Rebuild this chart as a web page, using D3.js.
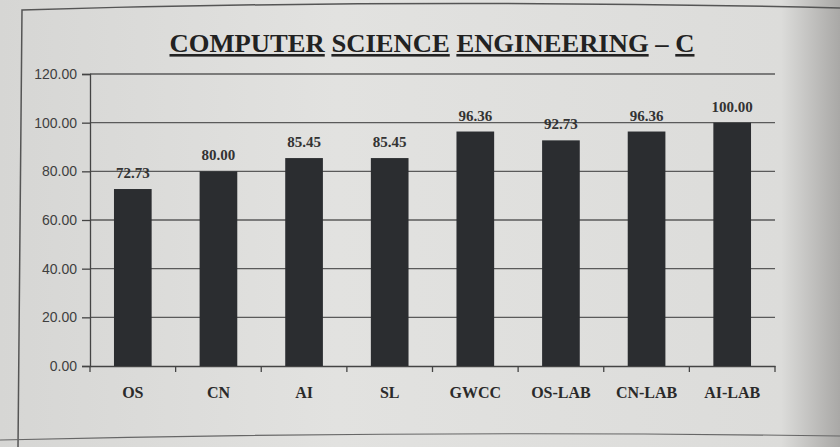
<!DOCTYPE html>
<html><head><meta charset="utf-8">
<script src="https://cdn.jsdelivr.net/npm/d3@7/dist/d3.min.js"></script>
<style>html,body{margin:0;padding:0;background:#d9d9d7;}svg{display:block;}</style>
</head><body>
<svg id="c" width="840" height="447"></svg>
<script>
const categories = ["OS","CN","AI","SL","GWCC","OS-LAB","CN-LAB","AI-LAB"];
const values = [72.73, 80.00, 85.45, 85.45, 96.36, 92.73, 96.36, 100.00];
const yTicks = [0,20,40,60,80,100,120];
const titleParts = [["COMPUTER",true],[" ",false],["SCIENCE",true],[" ",false],["ENGINEERING",true],[" – ",false],["C",true]];

const svg = d3.select("#c");
const W = 840, H = 447;
const defs = svg.append("defs");
const g1 = defs.append("linearGradient").attr("id","bg").attr("x1","0").attr("x2","1");
g1.append("stop").attr("offset","0").attr("stop-color","#d6d6d4");
g1.append("stop").attr("offset","0.4").attr("stop-color","#e2e2e0");
g1.append("stop").attr("offset","0.93").attr("stop-color","#dcdcda");
g1.append("stop").attr("offset","1").attr("stop-color","#a9a8a6");
svg.append("rect").attr("width",W).attr("height",H).attr("fill","url(#bg)");
// frame
svg.append("path").attr("d","M18,447 L22,10 Q420,-2 840,8").attr("fill","none").attr("stroke","#555").attr("stroke-width",1.5);
svg.append("path").attr("d","M0,440 Q420,430 840,436").attr("fill","none").attr("stroke","#666").attr("stroke-width",1.2);

const m = {l:90, r:775, t:74, b:366};
const x = d3.scaleBand().domain(categories).range([m.l,m.r]).paddingInner(0.56).paddingOuter(0.28);
const y = d3.scaleLinear().domain([0,120]).range([m.b,m.t]);

// gridlines
svg.append("g").selectAll("line").data(yTicks.filter(d=>d>0)).join("line")
  .attr("x1",m.l).attr("x2",m.r).attr("y1",d=>y(d)).attr("y2",d=>y(d))
  .attr("stroke","#5a5a5a").attr("stroke-width",1.3);

// y axis
const ya = svg.append("g").attr("transform",`translate(${m.l},0)`)
  .call(d3.axisLeft(y).tickValues(yTicks).tickFormat(d3.format(".2f")).tickSize(8));
ya.select(".domain").attr("stroke","#444").attr("stroke-width",1.3);
ya.selectAll(".tick line").attr("stroke","#444").attr("stroke-width",1.3);
ya.selectAll("text").attr("font-family","'Liberation Sans Narrow','Liberation Sans',sans-serif")
  .attr("font-size",14).attr("fill","#3f3f3f").attr("dx",-2);

// x axis
const xa = svg.append("g").attr("transform",`translate(0,${m.b})`)
  .call(d3.axisBottom(x).tickSize(0).tickPadding(21));
xa.select(".domain").attr("stroke","#444").attr("stroke-width",1.3);
xa.selectAll("text").attr("font-family","'Liberation Serif',serif").attr("font-weight","bold")
  .attr("font-size",16).attr("fill","#2a2a2a");
// category boundary ticks
const bounds = d3.range(categories.length+1).map(i => m.l + i*(m.r-m.l)/categories.length);
svg.append("g").selectAll("line").data(bounds).join("line")
  .attr("x1",d=>d).attr("x2",d=>d).attr("y1",m.b).attr("y2",m.b+6)
  .attr("stroke","#444").attr("stroke-width",1.3);

// bars
svg.append("g").selectAll("rect").data(values).join("rect")
  .attr("x",(d,i)=>x(categories[i])).attr("width",x.bandwidth())
  .attr("y",d=>y(d)).attr("height",d=>m.b-y(d))
  .attr("fill","#2b2d30");

// value labels
svg.append("g").selectAll("text").data(values).join("text")
  .attr("x",(d,i)=>x(categories[i])+x.bandwidth()/2).attr("y",d=>y(d)-11)
  .attr("text-anchor","middle").attr("font-family","'Liberation Serif',serif")
  .attr("font-weight","bold").attr("font-size",15).attr("fill","#333")
  .text(d=>d3.format(".2f")(d));

// title
const t = svg.append("text").attr("x",432).attr("y",52).attr("text-anchor","middle")
  .attr("font-family","'Liberation Serif',serif").attr("font-weight","bold")
  .attr("font-size",26).attr("fill","#222").attr("textLength",525).attr("lengthAdjust","spacingAndGlyphs");
t.selectAll("tspan").data(titleParts).join("tspan")
  .attr("text-decoration",d=>d[1]?"underline":"none").text(d=>d[0]);
</script>
</body></html>
